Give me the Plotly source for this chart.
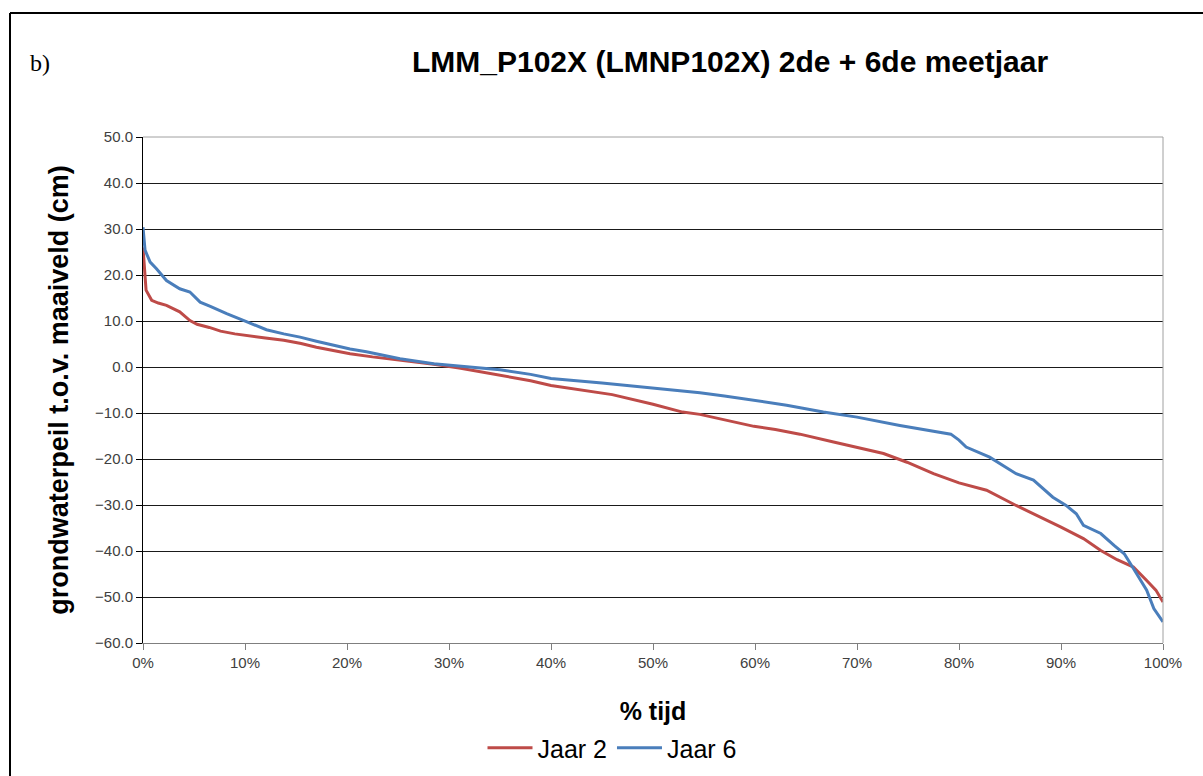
import plotly.graph_objects as go

# Data
jaar2_pct = [0, 0.1, 0.3, 0.85, 1.5, 2.3, 3.0, 3.6, 4.6, 5.3, 6.5, 7.6, 9, 10.5, 12, 13.8, 15.5, 17, 18.5,
             20.3, 22.5, 25.2, 28.5, 31, 35, 38, 40, 43, 46, 50, 52.9, 54.6, 57, 59.9, 62, 64.4, 67.7, 70,
             72.6, 74.9, 77.5, 80, 82.7, 85.6, 87.3, 90, 92.2, 93.9, 95.5, 97.1, 98.4, 99.3, 100]
jaar2_val = [26, 22, 16.7, 14.5, 13.9, 13.4, 12.7, 12, 10.1, 9.3, 8.6, 7.8, 7.2, 6.7, 6.3, 5.8, 5.1, 4.3, 3.6,
             2.9, 2.2, 1.5, 0.6, -0.2, -1.8, -3.0, -4.0, -5.0, -6.0, -8.1, -9.8, -10.3, -11.5, -12.9, -13.6,
             -14.6, -16.3, -17.4, -18.8, -20.7, -23.2, -25.2, -26.8, -30.1, -31.9, -34.8, -37.3, -39.9, -41.9,
             -43.5, -46.4, -48.5, -51.1]

jaar6_pct = [0, 0.1, 0.2, 0.7, 1.3, 2.3, 3.0, 3.6, 4.6, 5.6, 6.6, 8.2, 10.2, 12.1, 13.8, 15.4, 17, 18.7, 20.3,
             21.9, 25.2, 28.5, 31, 35, 38, 40, 45, 50, 54.6, 57, 59.9, 63.1, 66.7, 70, 74.2, 78.1, 79.2, 80,
             80.7, 83, 85.6, 87.3, 89.2, 90.5, 91.5, 92.2, 93.9, 95.2, 96.2, 97.1, 98.4, 99.1, 99.7, 100]
jaar6_val = [30.4, 27.5, 25.4, 22.8, 21.4, 18.8, 17.8, 17, 16.3, 14.1, 13.2, 11.6, 9.8, 8.1, 7.2, 6.5, 5.6, 4.7,
             3.9, 3.3, 1.8, 0.7, 0.2, -0.6, -1.6, -2.5, -3.5, -4.6, -5.6, -6.3, -7.2, -8.3, -9.8, -10.9, -12.7,
             -14.1, -14.6, -15.9, -17.4, -19.6, -23.2, -24.6, -28.3, -30.1, -31.9, -34.4, -36.2, -38.8, -40.6,
             -43.8, -48.5, -52.5, -54.3, -55.4]

x_tick_vals = [0, 10, 20, 30, 40, 50, 60, 70, 80, 90, 100]
x_tick_text = ["0%", "10%", "20%", "30%", "40%", "50%", "60%", "70%", "80%", "90%", "100%"]

series_names = ["Jaar 2", "Jaar 6"]
title_text = "LMM_P102X (LMNP102X) 2de + 6de meetjaar"
y_title = "grondwaterpeil t.o.v. maaiveld (cm)"
x_title = "% tijd"

W, H = 1203, 776
L, R, T, B = 143, 40, 137, 133
pw, ph = W - L - R, H - T - B

def px(x):
    return (x - L) / pw

def py(y):
    return (H - B - y) / ph

FONT = "Arial, Liberation Sans, sans-serif"

fig = go.Figure()
fig.add_trace(go.Scatter(x=jaar2_pct, y=jaar2_val, mode="lines", name=series_names[0],
                         line=dict(color="#BE4B48", width=3)))
fig.add_trace(go.Scatter(x=jaar6_pct, y=jaar6_val, mode="lines", name=series_names[1],
                         line=dict(color="#4A7EBB", width=3)))

fig.update_layout(
    width=W, height=H,
    margin=dict(l=L, r=R, t=T, b=B, autoexpand=False),
    paper_bgcolor="white", plot_bgcolor="white",
    font=dict(family=FONT, color="#000"),
    showlegend=True,
    legend=dict(orientation="h", x=px(612), xanchor="center", y=py(748), yanchor="middle",
                font=dict(size=25, family=FONT, color="#000"), itemwidth=45,
                bgcolor="rgba(0,0,0,0)", tracegroupgap=0),
    xaxis=dict(range=[0, 100], tickmode="array", tickvals=x_tick_vals, ticktext=x_tick_text,
               automargin=False,
               showgrid=False, zeroline=False, showline=True, linecolor="#7f7f7f", linewidth=1,
               ticks="outside", ticklen=6, tickcolor="#7f7f7f",
               tickfont=dict(size=15, family=FONT, color="#404040"),
               title=dict(text="<b>" + x_title + "</b>", font=dict(size=25, family=FONT, color="#000"),
                          standoff=32)),
    yaxis=dict(range=[-60, 50], dtick=10, tickformat=".1f", automargin=False,
               showgrid=True, gridcolor="#1a1a1a", gridwidth=1, zeroline=False,
               showline=True, linecolor="#000", linewidth=1,
               ticks="outside", ticklen=6, tickcolor="#000",
               tickfont=dict(size=15, family=FONT, color="#404040"),
               title=dict(text="<b>" + y_title + "</b>", font=dict(size=27, family=FONT, color="#000"),
                          standoff=18)),
    shapes=[
        dict(type="line", xref="paper", yref="paper", x0=0, x1=1, y0=1, y1=1,
             line=dict(color="#a0a0a0", width=1)),
        dict(type="line", xref="paper", yref="paper", x0=1, x1=1, y0=0, y1=1,
             line=dict(color="#a0a0a0", width=1)),
        dict(type="line", xref="paper", yref="paper", x0=px(10), x1=px(1203), y0=py(13), y1=py(13),
             line=dict(color="#000", width=2)),
        dict(type="line", xref="paper", yref="paper", x0=px(10), x1=px(10), y0=py(13), y1=py(776),
             line=dict(color="#000", width=2)),
    ],
    annotations=[
        dict(text="<b>" + title_text + "</b>", xref="paper", yref="paper", x=px(730), y=py(62),
             xanchor="center", yanchor="middle", showarrow=False,
             font=dict(size=30, family=FONT, color="#000")),
        dict(text="b)", xref="paper", yref="paper", x=px(28), y=py(63),
             xanchor="left", yanchor="middle", showarrow=False,
             font=dict(size=24, family="Liberation Serif, Times New Roman, serif", color="#000")),
    ],
)

fig.write_html("out.html")
